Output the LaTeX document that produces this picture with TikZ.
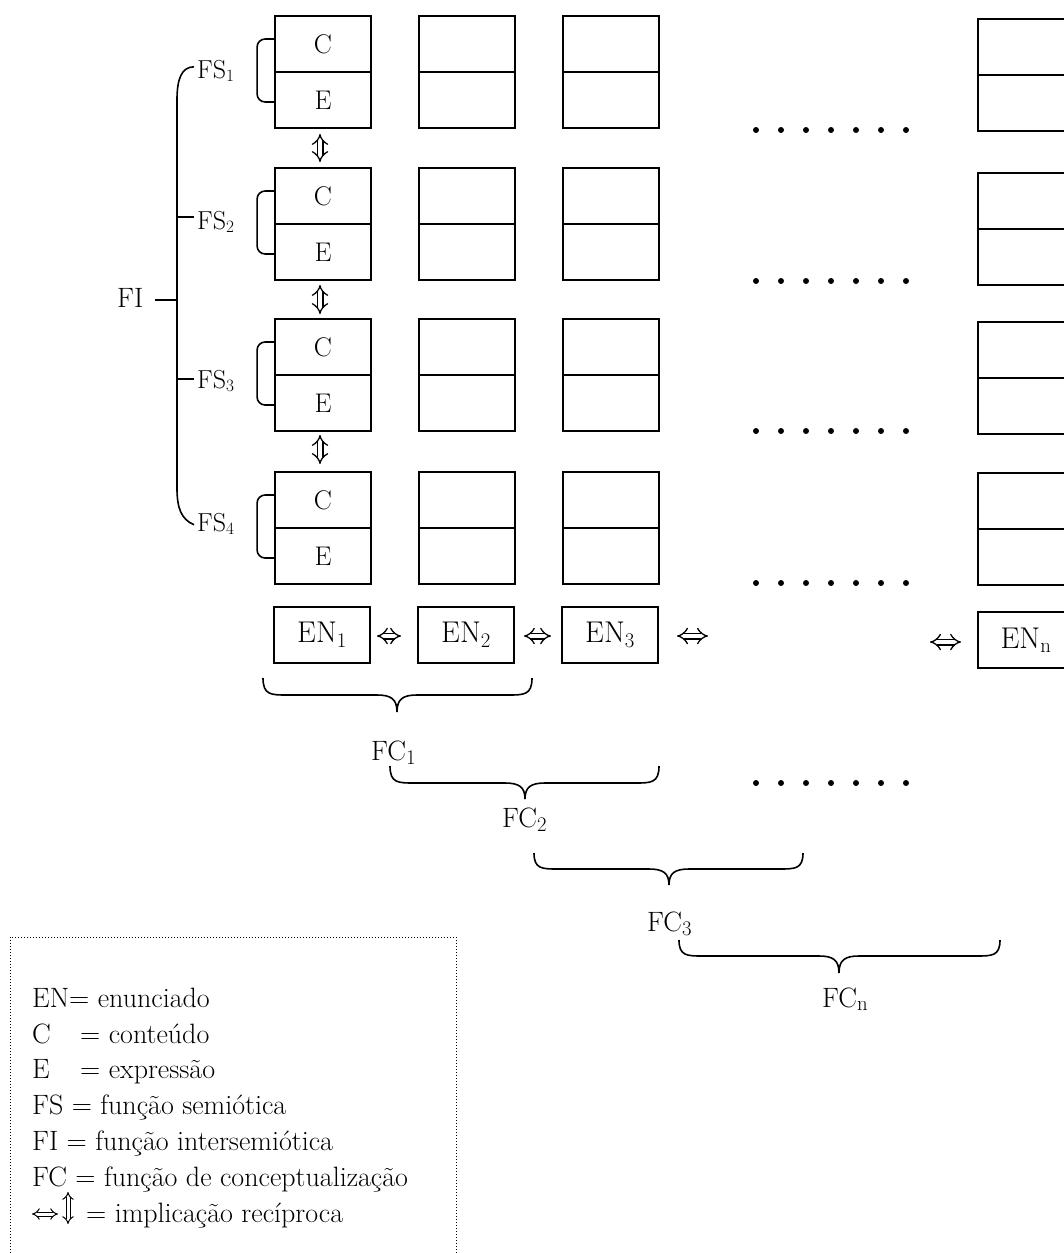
\documentclass[tikz,border=0pt]{standalone}
\usetikzlibrary{arrows.meta}
\begin{document}
\begin{tikzpicture}[x=1pt,y=-1pt,
  cell/.style={draw, line width=1.8pt, minimum width=96pt, minimum height=56pt, inner sep=0pt, font=\fontsize{27}{32}\selectfont},
  enbox/.style={cell, font=\fontsize{30}{36}\selectfont},
  dbl/.style={double, double distance=4.4pt, line width=1.3pt, {Implies}-{Implies}},
  dblsmall/.style={double, double distance=3pt, line width=1pt, {Implies}-{Implies}},
  brk/.style={line width=1.6pt, rounded corners=8pt},
  brc/.style={line width=1.6pt},
  fs/.style={anchor=base west, inner sep=0pt, font=\fontsize{26}{31}\selectfont},
  fc/.style={anchor=base west, inner sep=0pt, font=\fontsize{28}{33}\selectfont},
  leg/.style={anchor=base west, inner sep=0pt, font=\fontsize{28}{33}\selectfont},
  dotf/.style={fill=black}]
\useasboundingbox (0,0) rectangle (1064,1253);
\clip (0,0) rectangle (1064,1253);

% ---- grid of boxes, columns 1-3
\foreach \r/\yy in {1/16,2/168,3/319,4/472}{
  \node[cell] (C\r) at (323,\yy+28) {C};
  \node[cell] (E\r) at (323,\yy+84) {E};
  \node[cell] (Pa\r) at (467,\yy+28) {};
  \node[cell] (Pb\r) at (467,\yy+84) {};
  \node[cell] (Qa\r) at (611,\yy+28) {};
  \node[cell] (Qb\r) at (611,\yy+84) {};
  \draw[brk] ([yshift=5pt]C\r.west) -| ([xshift=-17pt,yshift=-2pt]E\r.west) -- ([yshift=-2pt]E\r.west);
}
% ---- column n
\foreach \r/\yy in {1/19,2/173,3/322,4/473}{
  \node[cell] (Na\r) at (1026,\yy+28) {};
  \node[cell] (Nb\r) at (1026,\yy+84) {};
}

% ---- vertical implication arrows
\draw[dbl] ([xshift=-3pt,yshift=-5pt]E1.south) -- ([xshift=-3pt,yshift=5pt]C2.north);
\draw[dbl] ([xshift=-3pt,yshift=-4pt]E2.south) -- ([xshift=-3pt,yshift=4pt]C3.north);
\draw[dbl] ([xshift=-3pt,yshift=-3pt]E3.south) -- ([xshift=-3pt,yshift=7pt]C4.north);

% ---- FS labels and FI brace
\node[fs] (FS1) at (197,78) {FS$_1$};
\node[fs] (FS2) at (197,229) {FS$_2$};
\node[fs] (FS3) at (197,388) {FS$_3$};
\node[fs] (FS4) at (197,531) {FS$_4$};
\node[fs, font=\fontsize{28}{33}\selectfont] (FI) at (117,307) {FI};
\coordinate (bx) at (177,300);
\draw[brc] ([xshift=-3pt,yshift=4pt]FS1.west) .. controls (181,67) and (177,80) .. (177,100)
  -- (177,488) .. controls (177,508) and (181,519) .. ([xshift=-3pt,yshift=-1pt]FS4.west);
\draw[brc] (bx |- 0,217) -- ([xshift=-3pt]FS2.west |- 0,217);
\draw[brc] (bx |- 0,379) -- ([xshift=-3pt]FS3.west |- 0,379);
\draw[brc] ([xshift=12pt]FI.east |- bx) -- (bx);

% ---- dots
\foreach \yy in {130,281,431,583,783}{
  \foreach \k in {0,...,6}{
    \fill[dotf] (756+25*\k,\yy) circle (3pt);
  }
}

% ---- EN row
\node[enbox] (EN1) at (322,635) {EN$_1$};
\node[enbox] (EN2) at (466,635) {EN$_2$};
\node[enbox] (EN3) at (610,635) {EN$_3$};
\node[enbox] (ENn) at (1026,640) {EN$_\mathrm{n}$};
\coordinate (a1) at (677,636);
\coordinate (a2) at (708,636);
\coordinate (b1) at (930,642);
\draw[dbl] ([xshift=6pt]EN1.east |- 0,636) -- ([xshift=-16pt]EN2.west |- 0,636);
\draw[dbl] ([xshift=9pt]EN2.east |- 0,636) -- ([xshift=-10pt]EN3.west |- 0,636);
\draw[dbl] (a1) -- (a2);
\draw[dbl] (b1) -- ([xshift=-16pt]ENn.west |- b1);

% ---- FC braces
\newcommand{\fcbrace}[6]{%
  \draw[brc] (#1,#4) .. controls (#1,#5) and (#1+8,#5) .. (#1+24,#5)
    -- (#3-20,#5) .. controls (#3-6,#5) and (#3,#5+4) .. (#3,#6)
    .. controls (#3,#5+4) and (#3+6,#5) .. (#3+20,#5)
    -- (#2-24,#5) .. controls (#2-8,#5) and (#2,#5) .. (#2,#4);}
\fcbrace{263}{532}{397}{678}{695}{712}
\fcbrace{390}{659}{525}{766}{783}{799}
\fcbrace{534}{803}{669}{853}{869}{885}
\fcbrace{679}{1000}{839}{940}{956}{973}
\node[fc] (FC1) at (371,760) {FC$_1$};
\node[fc] (FC2) at (502,827) {FC$_2$};
\node[fc] (FC3) at (647,931) {FC$_3$};
\node[fc] (FCn) at (822,1007) {FC$_\mathrm{n}$};

% ---- legend
\draw[line width=1pt, dash pattern=on 1pt off 2pt] (10,1280) -- (10,937) -- (456,937) -- (456,1280);
\node[leg] (L1) at (32,1007) {EN= enunciado};
\node[leg] (L2) at (32,1043) {\makebox[48pt][l]{C}= conteúdo};
\node[leg] (L3) at (32,1078) {\makebox[48pt][l]{E}= expressão};
\node[leg] (L4) at (32,1114) {FS = função semiótica};
\node[leg] (L5) at (32,1150) {FI = função intersemiótica};
\node[leg] (L6) at (32,1186) {FC = função de conceptualização};
\node[leg] (L7) at (86,1222) {= implicação recíproca};
\coordinate (s1) at (32,1214);
\coordinate (s2) at (58,1214);
\coordinate (s3) at (68,1192);
\coordinate (s4) at (68,1224);
\draw[dblsmall] (s1) -- (s2);
\draw[dblsmall] (s3) -- (s4);
\end{tikzpicture}
\end{document}
